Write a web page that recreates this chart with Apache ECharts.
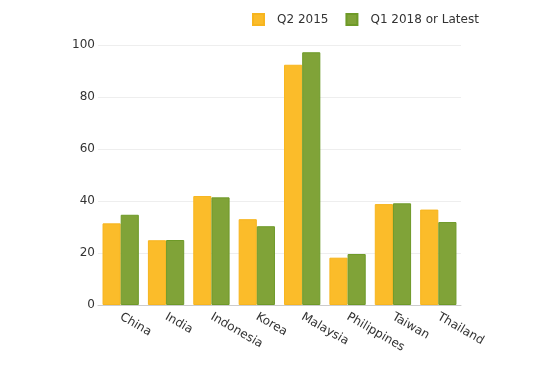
<!DOCTYPE html>
<html><head><meta charset="utf-8">
<script src="https://cdn.jsdelivr.net/npm/echarts@6/dist/echarts.min.js"></script>
<style>html,body{margin:0;padding:0;background:#fff}#c{width:550px;height:365px}</style>
</head><body><div id="c"></div>
<script>
var categories = ["China","India","Indonesia","Korea","Malaysia","Philippines","Taiwan","Thailand"];
var q2_2015 = [31.4, 24.9, 41.9, 33.0, 92.4, 18.2, 38.8, 36.7];
var q1_2018 = [34.7, 25.0, 41.4, 30.3, 97.2, 19.6, 39.1, 31.9];
var yTicks = [0, 20, 40, 60, 80, 100];

var font = '"DejaVu Sans", sans-serif';
var chart = echarts.init(document.getElementById('c'), null, {renderer:'canvas'});
chart.setOption({
  animation:false,
  textStyle:{fontFamily:font},
  legend:{
    top:8, left:247, itemWidth:11, itemHeight:11, itemGap:17,
    textStyle:{fontFamily:font, fontSize:12, color:'#333', padding:[0,0,0,8]},
    data:[{name:'Q2 2015', icon:'rect'},{name:'Q1 2018 or Latest', icon:'rect'}]
  },
  grid:{left:98, right:89, top:45, bottom:60},
  xAxis:{
    type:'category', data:categories,
    axisLine:{lineStyle:{color:'#ccc', width:1}},
    axisTick:{show:false},
    axisLabel:{rotate:-30, fontFamily:font, fontSize:12, color:'#333', margin:11}
  },
  yAxis:{
    type:'value', min:yTicks[0], max:yTicks[yTicks.length-1], interval:20,
    axisLine:{show:false}, axisTick:{show:false},
    axisLabel:{fontFamily:font, fontSize:12, color:'#333', margin:3},
    splitLine:{lineStyle:{color:'#eee', width:1}}
  },
  series:[
    {name:'Q2 2015', type:'bar', data:q2_2015, barGap:'0%', barCategoryGap:'20%',
     itemStyle:{color:'#FBBC2A', borderColor:'#F7B51E', borderWidth:1}},
    {name:'Q1 2018 or Latest', type:'bar', data:q1_2018,
     itemStyle:{color:'#80A338', borderColor:'#6E9A28', borderWidth:1}}
  ]
});
</script></body></html>
